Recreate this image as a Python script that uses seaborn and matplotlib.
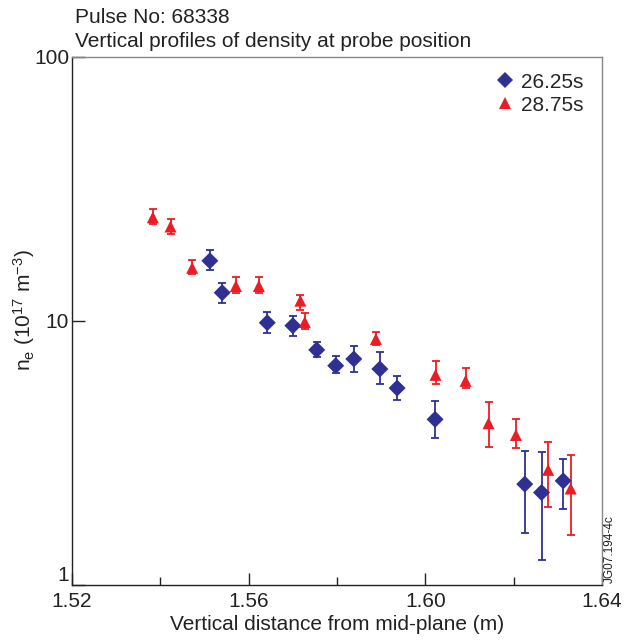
import numpy as np
import pandas as pd
import matplotlib
matplotlib.use("Agg")
import matplotlib.pyplot as plt
import seaborn as sns
from matplotlib.ticker import FixedLocator, NullLocator

# 26.25s series (diamonds): position, density, error bar low / high
x_a = [1.5512, 1.5540, 1.5642, 1.5700, 1.5754, 1.5797, 1.5838, 1.5897, 1.5936, 1.6022, 1.6225, 1.6263, 1.6312]
ne_a = [16.9, 12.8, 9.85, 9.6, 7.77, 6.77, 7.18, 6.58, 5.57, 4.24, 2.41, 2.24, 2.48]
lo_a = [15.6, 11.67, 9.0, 8.8, 7.29, 6.34, 6.43, 5.76, 5.02, 3.61, 1.57, 1.24, 1.94]
hi_a = [18.6, 13.97, 10.8, 10.47, 8.3, 7.39, 8.06, 7.63, 6.21, 4.96, 3.23, 3.19, 3.0]

# 28.75s series (triangles)
x_b = [1.5383, 1.5423, 1.5472, 1.5571, 1.5623, 1.5717, 1.5727, 1.5888, 1.6023, 1.6091, 1.6143, 1.6205, 1.6278, 1.6329]
ne_b = [24.7, 22.8, 15.9, 13.57, 13.57, 11.94, 9.91, 8.55, 6.25, 5.93, 4.10, 3.70, 2.73, 2.32]
lo_b = [23.3, 21.4, 15.07, 12.73, 12.73, 11.0, 9.3, 8.09, 5.77, 5.56, 3.34, 3.30, 1.98, 1.54]
hi_b = [26.6, 24.4, 17.0, 14.68, 14.7, 12.58, 10.7, 9.06, 7.03, 6.62, 4.95, 4.25, 3.49, 3.11]

labels = ["26.25s", "28.75s"]
colors = {"26.25s": "#2e3192", "28.75s": "#ed1c24"}
markers = {"26.25s": "D", "28.75s": "^"}

df = pd.concat([
    pd.DataFrame({"z": x_a, "ne": ne_a, "lo": lo_a, "hi": hi_a, "time": labels[0]}),
    pd.DataFrame({"z": x_b, "ne": ne_b, "lo": lo_b, "hi": hi_b, "time": labels[1]}),
])

sns.set_style("ticks")
plt.rcParams["font.family"] = ["Liberation Sans", "DejaVu Sans"]
plt.rcParams["mathtext.fontset"] = "custom"
plt.rcParams["mathtext.rm"] = "Liberation Sans"
plt.rcParams["mathtext.it"] = "Liberation Sans"

FS = 15
TXT = "#222222"

fig = plt.figure(figsize=(6.34, 6.41), dpi=100)
ax = fig.add_axes([0.1136, 0.0874, 0.836, 0.8237])

for t, g in df.groupby("time"):
    ax.errorbar(g["z"], g["ne"], yerr=[g["ne"] - g["lo"], g["hi"] - g["ne"]],
                fmt="none", ecolor=colors[t], elinewidth=1.3, capsize=2.8,
                capthick=1.3, zorder=2)

sns.scatterplot(data=df, x="z", y="ne", hue="time", style="time",
                palette=colors, markers=markers, s=75, linewidth=0,
                hue_order=labels, style_order=labels, ax=ax, zorder=3)

ax.set_yscale("log")
ax.set_xlim(1.52, 1.64)
ax.set_ylim(1, 100)
ax.xaxis.set_major_locator(FixedLocator([1.52, 1.56, 1.60, 1.64]))
ax.xaxis.set_minor_locator(FixedLocator([1.54, 1.58, 1.62]))
ax.set_xticklabels(["1.52", "1.56", "1.60", "1.64"])
ax.yaxis.set_major_locator(FixedLocator([1, 10, 100]))
ax.yaxis.set_minor_locator(NullLocator())
ax.set_yticklabels(["1", "10", "100"])
ax.tick_params(axis="both", which="major", direction="in", length=9, width=1,
               labelsize=FS, colors=TXT)
ax.tick_params(axis="x", which="major", pad=5)
ax.tick_params(axis="x", which="minor", direction="in", length=6, width=1, colors=TXT)
ax.tick_params(axis="y", which="major", pad=2)
ax.get_yticklabels()[0].set_va("bottom")

for s in ["left", "bottom"]:
    ax.spines[s].set_color(TXT)
    ax.spines[s].set_linewidth(1.0)
for s in ["top", "right"]:
    ax.spines[s].set_color("#888888")
    ax.spines[s].set_linewidth(1.0)

ax.set_xlabel("Vertical distance from mid-plane (m)", fontsize=FS, color=TXT, labelpad=3)
ax.set_ylabel(r"n$_\mathregular{e}$ (10$^\mathregular{17}$ m$^\mathregular{-3}$)", fontsize=FS,
              color=TXT)
ax.yaxis.set_label_coords(-0.066, 0.52)

fig.text(0.118, 0.988, "Pulse No: 68338", fontsize=FS, color=TXT, va="top", ha="left")
fig.text(0.118, 0.950, "Vertical profiles of density at probe position", fontsize=FS,
         color=TXT, va="top", ha="left")
fig.text(0.962, 0.0905, "JG07.194-4c", fontsize=8.5, rotation=90, color=TXT, va="bottom", ha="center")

leg = ax.legend(loc="upper right", bbox_to_anchor=(0.993, 0.998), frameon=False, fontsize=FS,
                handletextpad=0.2, handlelength=1.2, borderaxespad=0.3, labelspacing=0.2)
for h in leg.legend_handles:
    h.set_markersize(8)

fig.savefig("out.png", dpi=100)
